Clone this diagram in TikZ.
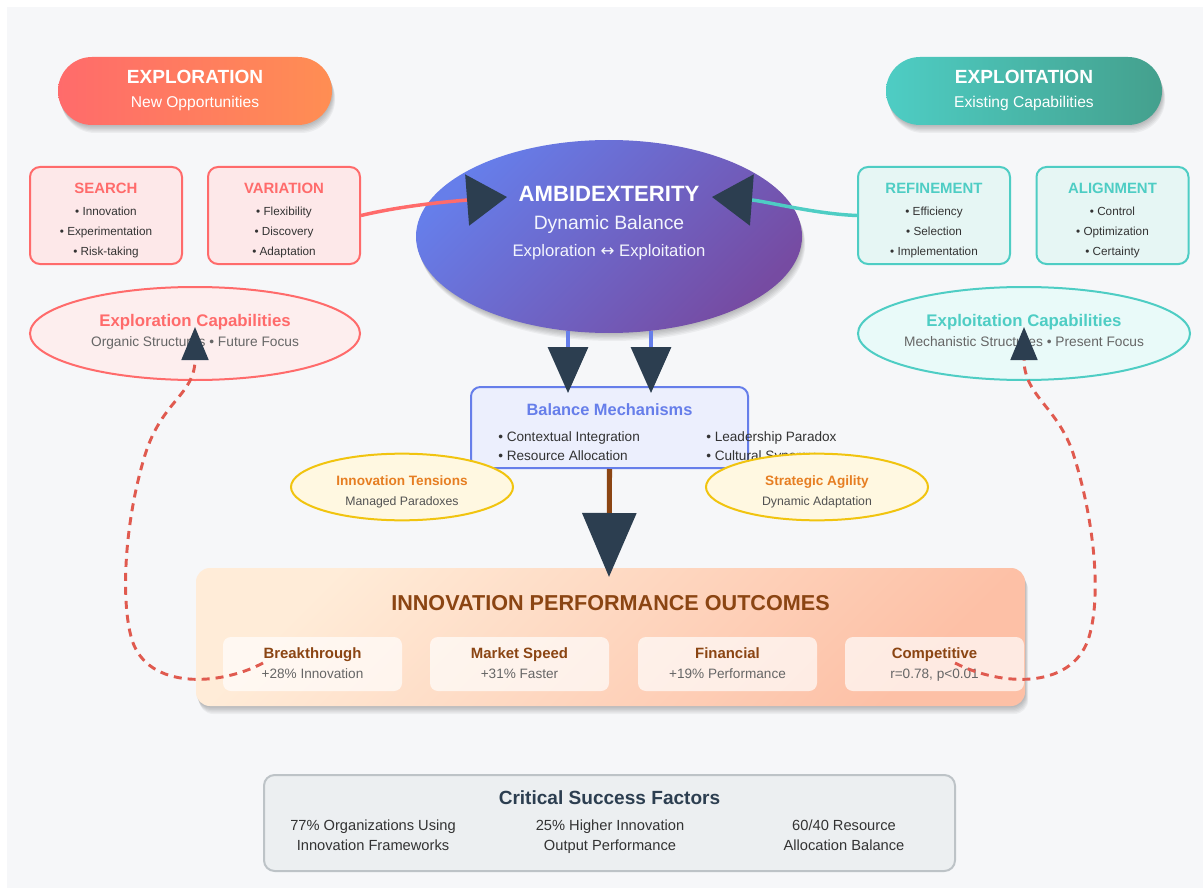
\documentclass[tikz,border=0pt]{standalone}
\usepackage{fontspec}
\setmainfont{Liberation Sans}
\newfontfamily\symfont{DejaVu Sans}
\usetikzlibrary{shapes.geometric,arrows.meta}

\definecolor{cRed}{HTML}{FF6B6B}
\definecolor{cOrange}{HTML}{FF8E53}
\definecolor{cTeal}{HTML}{4ECDC4}
\definecolor{cTealDk}{HTML}{44A08D}
\definecolor{cBlue}{HTML}{667EEA}
\definecolor{cPurple}{HTML}{764BA2}
\definecolor{cDark}{HTML}{2C3E50}
\definecolor{cDash}{HTML}{E05A4F}
\definecolor{cBrown}{HTML}{8B4513}
\definecolor{cGold}{HTML}{F1C40F}
\definecolor{cAmber}{HTML}{E67E22}
\definecolor{cPeachA}{HTML}{FFECD8}
\definecolor{cPeachB}{HTML}{FDC0A6}
\definecolor{bgGray}{HTML}{F6F7F9}
\definecolor{redFill}{HTML}{FDE8E9}
\definecolor{redFillB}{HTML}{FDEEEE}
\definecolor{tealFill}{HTML}{E6F6F4}
\definecolor{tealFillB}{HTML}{E9FAF9}
\definecolor{blueFill}{HTML}{ECEFFD}
\definecolor{goldFill}{HTML}{FFF8E1}
\definecolor{csfFill}{HTML}{ECEFF1}
\definecolor{csfLine}{HTML}{BDC3C7}
\definecolor{txtDark}{HTML}{333333}
\definecolor{txtGray}{HTML}{666666}

\newcommand\setfs[1]{\fontsize{#1}{#1}\selectfont}

\begin{document}
\begin{tikzpicture}[x=0.75pt,y=-0.75pt,
  lbl/.style={inner sep=0pt, anchor=base},
  item/.style={lbl, font=\setfs{8.8}, text=txtDark},
  % soft shadow built from a few faint offset copies of the shape
  shadowlayer/.style={preaction={fill=black, opacity=0.045, transform canvas={xshift=#1*0.4pt, yshift=-#1*1pt}}},
  softshadow/.style={shadowlayer=1, shadowlayer=2, shadowlayer=3, shadowlayer=4, shadowlayer=5, shadowlayer=6},
  pill/.style={rounded corners=25.5pt, minimum width=205.5pt, minimum height=51pt, inner sep=0pt, softshadow},
  redbox/.style={draw=cRed, line width=1.5pt, fill=redFill, rounded corners=7.5pt,
    minimum width=114pt, minimum height=72.75pt, inner sep=0pt},
  tealbox/.style={redbox, draw=cTeal, fill=tealFill},
  capell/.style={ellipse, line width=1.5pt, minimum width=247.5pt, minimum height=69.75pt, inner sep=0pt},
  goldell/.style={ellipse, draw=cGold, line width=1.5pt, fill=goldFill, minimum width=166.5pt, minimum height=50pt, inner sep=0pt},
  card/.style={fill=white, fill opacity=0.68, rounded corners=6pt, minimum width=134.25pt, minimum height=40.5pt, inner sep=0pt},
  dashlink/.style={draw=cDash, line width=2.2pt, dash pattern=on 6pt off 4.5pt,
    -{Triangle[length=24.75pt, width=20pt, color=cDark]}}
]
\useasboundingbox (0,0) rectangle (1203,888);
\fill[white] (0,0) rectangle (1203,888);
\fill[bgGray] (7,7) rectangle (1203,888);

% ---- headers ----
\node[pill, left color=cRed, right color=cOrange] (explore) at (195,91) {};
\node[lbl, font=\bfseries\setfs{14.3}, text=white] (exploreT) at (195,83.5) {EXPLORATION};
\node[lbl, font=\setfs{11.7}, text=white] (exploreS) at (195,107.5) {New Opportunities};

\node[pill, minimum width=207pt, left color=cTeal, right color=cTealDk] (exploit) at (1024,91) {};
\node[lbl, font=\bfseries\setfs{14.3}, text=white] (exploitT) at (1024,83.5) {EXPLOITATION};
\node[lbl, font=\setfs{11.7}, text=white] (exploitS) at (1024,107.5) {Existing Capabilities};

% ---- exploration boxes ----
\node[redbox] (search) at (106,215.5) {};
\node[lbl, font=\bfseries\setfs{11.2}, text=cRed] (searchT) at (106,193.3) {SEARCH};
\foreach \t [count=\i] in {Innovation,Experimentation,Risk-taking}
  \node[item] (search-\i) at (106,195.2+20*\i) {• \t};

\node[redbox] (variation) at (284,215.5) {};
\node[lbl, font=\bfseries\setfs{11.2}, text=cRed] (variationT) at (284,193.3) {VARIATION};
\foreach \t [count=\i] in {Flexibility,Discovery,Adaptation}
  \node[item] (variation-\i) at (284,195.2+20*\i) {• \t};

% ---- exploitation boxes ----
\node[tealbox] (refine) at (934,215.5) {};
\node[lbl, font=\bfseries\setfs{11.2}, text=cTeal] (refineT) at (934,193.3) {REFINEMENT};
\foreach \t [count=\i] in {Efficiency,Selection,Implementation}
  \node[item] (refine-\i) at (934,195.2+20*\i) {• \t};

\node[tealbox] (align) at (1112.5,215.5) {};
\node[lbl, font=\bfseries\setfs{11.2}, text=cTeal] (alignT) at (1112.5,193.3) {ALIGNMENT};
\foreach \t [count=\i] in {Control,Optimization,Certainty}
  \node[item] (align-\i) at (1112.5,195.2+20*\i) {• \t};

% ---- central ellipse ----
\node[ellipse, minimum width=289.5pt, minimum height=144.75pt, inner sep=0pt,
  top color=cBlue, bottom color=cPurple, shading angle=45, softshadow] (ambi) at (609,236.5) {};
\node[lbl, font=\bfseries\setfs{16.6}, text=white] (ambiT) at (609,201) {AMBIDEXTERITY};
\node[lbl, font=\setfs{14.5}, text=white!92!cBlue] (ambiS) at (609,229) {Dynamic Balance};
\node[lbl, font=\setfs{12.5}, text=white!92!cBlue] (ambiX) at (609,256) {Exploration {\symfont ↔} Exploitation};

% ---- capability ellipses ----
\node[capell, draw=cRed, fill=redFillB] (expcap) at (195,333.5) {};
\node[lbl, font=\bfseries\setfs{12.6}, text=cRed] (expcapT) at (195,326) {Exploration Capabilities};
\node[lbl, font=\setfs{10.3}, text=txtGray] (expcapS) at (195,346) {Organic Structures • Future Focus};

\node[capell, minimum width=249pt, draw=cTeal, fill=tealFillB] (exlcap) at (1024,333.5) {};
\node[lbl, font=\bfseries\setfs{12.6}, text=cTeal] (exlcapT) at (1024,326) {Exploitation Capabilities};
\node[lbl, font=\setfs{10.3}, text=txtGray] (exlcapS) at (1024,346) {Mechanistic Structures • Present Focus};

% ---- balance mechanisms ----
\node[draw=cBlue, line width=1.5pt, fill=blueFill, rounded corners=7pt,
  minimum width=207.75pt, minimum height=60.75pt, inner sep=0pt] (balance) at (609.5,427.5) {};
\node[lbl, font=\bfseries\setfs{12.3}, text=cBlue] (balanceT) at (609.5,415) {Balance Mechanisms};
\node[item, font=\setfs{10.2}, anchor=base west] (bal-1) at (498,441) {• Contextual Integration};
\node[item, font=\setfs{10.2}, anchor=base west] (bal-2) at (498,460) {• Resource Allocation};
\node[item, font=\setfs{10.2}, anchor=base west] (bal-3) at (706,441) {• Leadership Paradox};
\node[item, font=\setfs{10.2}, anchor=base west] (bal-4) at (706,460) {• Cultural Synergy};

\node[goldell] (tension) at (402,487) {};
\node[lbl, font=\bfseries\setfs{10.2}, text=cAmber] (tensionT) at (402,485) {Innovation Tensions};
\node[lbl, font=\setfs{9.2}, text=txtDark!85] (tensionS) at (402,505.5) {Managed Paradoxes};

\node[goldell] (agility) at (817,487) {};
\node[lbl, font=\bfseries\setfs{10.2}, text=cAmber] (agilityT) at (817,485) {Strategic Agility};
\node[lbl, font=\setfs{9.2}, text=txtDark!85] (agilityS) at (817,505.5) {Dynamic Adaptation};

% ---- outcomes panel ----
\node[rounded corners=10.5pt, minimum width=621.75pt, minimum height=103.5pt, inner sep=0pt,
  top color=cPeachA, bottom color=cPeachB, shading angle=45, softshadow] (outcome) at (610.5,637) {};
\node[lbl, font=\bfseries\setfs{16.2}, text=cBrown] (outcomeT) at (610.5,610) {INNOVATION PERFORMANCE OUTCOMES};
\foreach \cx/\ti/\va [count=\i] in {312.5/Breakthrough/+28\% Innovation, 519.5/Market Speed/+31\% Faster,
    727.5/Financial/+19\% Performance, 934.5/Competitive/{r=0.78, p<0.01}} {
  \node[card] (card-\i) at (\cx,664) {};
  \node[lbl, font=\bfseries\setfs{11.2}, text=cBrown] (cardT-\i) at (\cx,658) {\ti};
  \node[lbl, font=\setfs{10.2}, text=txtGray] (cardV-\i) at (\cx,678) {\va};
}

% ---- critical success factors ----
\node[draw=csfLine, line width=1.5pt, fill=csfFill, rounded corners=8pt,
  minimum width=518.25pt, minimum height=72pt, inner sep=0pt] (csf) at (609.5,823) {};
\node[lbl, font=\bfseries\setfs{14.3}, text=cDark] (csfT) at (609.5,804) {Critical Success Factors};
\foreach \cx/\la/\lb [count=\i] in {373/77\% Organizations Using/Innovation Frameworks,
    610/25\% Higher Innovation/Output Performance, 844/60\slash 40 Resource/Allocation Balance} {
  \node[lbl, font=\setfs{11}, text=txtDark] (csfA-\i) at (\cx,830) {\la};
  \node[lbl, font=\setfs{11}, text=txtDark] (csfB-\i) at (\cx,850) {\lb};
}

% ---- connector end points ----
\coordinate (tipL) at (507,197);
\coordinate (tipR) at (712,197);
\coordinate (downA) at (568,331);
\coordinate (downB) at (651,331);
\coordinate (tipA) at (568,393);
\coordinate (tipB) at (651,393);
\coordinate (tipC) at (609,577);
\coordinate (fromBreak) at (263,663);
\coordinate (fromComp) at (955,663);
\coordinate (tipExp) at (195,327);
\coordinate (tipExl) at (1024,327);

% ---- connectors ----
\draw[cRed, line width=2.6pt, -{Triangle[length=30pt, width=38pt, color=cDark]}]
  (variation.east) .. controls (405,205) and (455,201) .. (tipL);
\draw[cTeal, line width=2.6pt, -{Triangle[length=30pt, width=38pt, color=cDark]}]
  (refine.west) .. controls (815,214) and (765,201) .. (tipR);
\draw[cBlue, line width=2.4pt, -{Triangle[length=34.5pt, width=30pt, color=cDark]}] (downA) -- (tipA);
\draw[cBlue, line width=2.4pt, -{Triangle[length=34.5pt, width=30pt, color=cDark]}] (downB) -- (tipB);
\draw[cBrown, line width=3.8pt, -{Triangle[length=48pt, width=40pt, color=cDark]}] (balance.south) -- (tipC);

\draw[dashlink] (fromBreak) .. controls (220,686) and (148,690) .. (132,640)
  .. controls (120,600) and (125,520) .. (145,455)
  .. controls (162,400) and (195,395) .. (tipExp);
\draw[dashlink] (fromComp) .. controls (1000,686) and (1070,690) .. (1088,640)
  .. controls (1102,600) and (1095,520) .. (1072,450)
  .. controls (1055,405) and (1024,395) .. (tipExl);
\end{tikzpicture}
\end{document}
